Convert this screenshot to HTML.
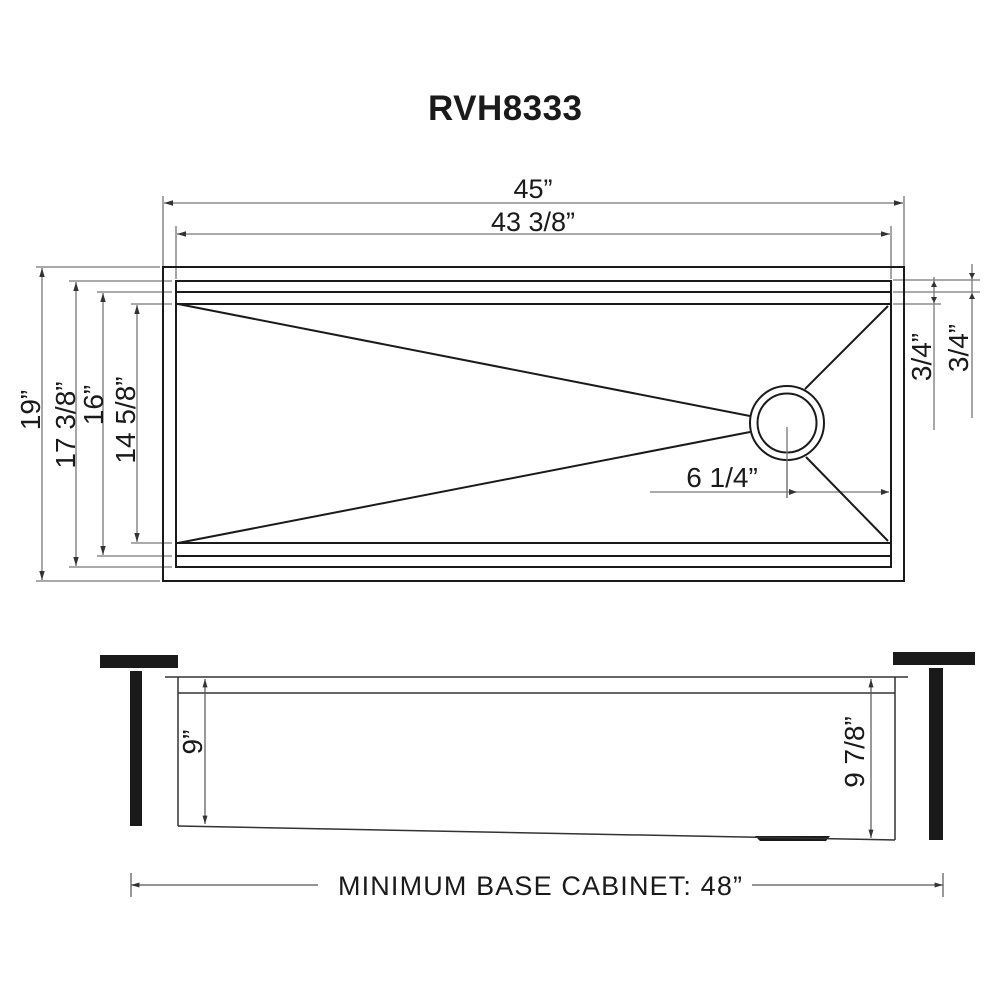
<!DOCTYPE html>
<html><head><meta charset="utf-8"><style>
html,body{margin:0;padding:0;background:#fff;}
svg{display:block;}
text{font-family:"Liberation Sans",Arial,sans-serif;fill:#1a1a1a;}
</style></head><body>
<svg width="1000" height="1000" viewBox="0 0 1000 1000" xmlns="http://www.w3.org/2000/svg">
<defs>
<marker id="a" viewBox="0 0 10 10" refX="10" refY="5" markerWidth="7" markerHeight="7" orient="auto-start-reverse"><path d="M0,2 L10,5 L0,8 z" fill="#333"/></marker>
</defs>
<text x="505" y="120" font-size="35" font-weight="bold" text-anchor="middle" textLength="154">RVH8333</text>

<g stroke="#777" stroke-width="1.3" fill="none">
<line x1="163" y1="196" x2="163" y2="266"/>
<line x1="904" y1="196" x2="904" y2="266"/>
<line x1="176" y1="226" x2="176" y2="279"/>
<line x1="891" y1="226" x2="891" y2="279"/>
<line x1="164" y1="203" x2="903" y2="203" marker-start="url(#a)" marker-end="url(#a)"/>
<line x1="177" y1="234" x2="890" y2="234" marker-start="url(#a)" marker-end="url(#a)"/>
<line x1="36" y1="267" x2="160" y2="267"/>
<line x1="36" y1="581" x2="160" y2="581"/>
<line x1="69" y1="281" x2="172" y2="281"/>
<line x1="69" y1="567" x2="172" y2="567"/>
<line x1="97" y1="292" x2="172" y2="292"/>
<line x1="97" y1="556" x2="172" y2="556"/>
<line x1="131" y1="304" x2="172" y2="304"/>
<line x1="131" y1="543" x2="172" y2="543"/>
<line x1="42" y1="268" x2="42" y2="580" marker-start="url(#a)" marker-end="url(#a)"/>
<line x1="76" y1="282" x2="76" y2="566" marker-start="url(#a)" marker-end="url(#a)"/>
<line x1="103" y1="293" x2="103" y2="555" marker-start="url(#a)" marker-end="url(#a)"/>
<line x1="137" y1="305" x2="137" y2="542" marker-start="url(#a)" marker-end="url(#a)"/>
<line x1="893" y1="280" x2="980" y2="280"/>
<line x1="893" y1="292" x2="980" y2="292"/>
<line x1="893" y1="304" x2="941" y2="304"/>
<line x1="934" y1="277" x2="934" y2="430"/>
<line x1="972" y1="264" x2="972" y2="418"/>
<line x1="650" y1="492" x2="889" y2="492"/>
<line x1="787" y1="427" x2="787" y2="498"/>
</g>
<g fill="#333">
<path d="M931,297 L934,303 L937,297z"/><path d="M931,287 L934,281 L937,287z"/>
<path d="M969,273 L972,279 L975,273z"/><path d="M969,299 L972,293 L975,299z"/>
<path d="M789,489 L797,492 L789,495z"/><path d="M889,492 L881,489 L881,495z"/>
</g>
<text x="533" y="198" font-size="27" text-anchor="middle">45”</text>
<text x="533" y="231" font-size="27" text-anchor="middle">43 3/8”</text>
<text font-size="28" text-anchor="middle" transform="translate(40,410) rotate(-90)">19”</text>
<text font-size="28" text-anchor="middle" transform="translate(75,425) rotate(-90)">17 3/8”</text>
<text font-size="28" text-anchor="middle" transform="translate(103,405) rotate(-90)">16”</text>
<text font-size="28" text-anchor="middle" transform="translate(135,420) rotate(-90)">14 5/8”</text>
<text font-size="28" text-anchor="middle" transform="translate(931,357) rotate(-90)">3/4”</text>
<text font-size="28" text-anchor="middle" transform="translate(968,348) rotate(-90)">3/4”</text>
<text x="722" y="487" font-size="28" text-anchor="middle">6 1/4”</text>

<g stroke="#1a1a1a" stroke-width="2" fill="none">
<rect x="163" y="267" width="741" height="314"/>
<rect x="176" y="281" width="715" height="286"/>
<line x1="176" y1="292" x2="891" y2="292"/>
<line x1="176" y1="304" x2="891" y2="304"/>
<line x1="176" y1="543" x2="891" y2="543"/>
<line x1="176" y1="556" x2="891" y2="556"/>
<line x1="178" y1="304" x2="750" y2="416"/>
<line x1="178" y1="543" x2="750" y2="432"/>
<line x1="888" y1="306" x2="805" y2="389"/>
<line x1="806" y1="457" x2="888" y2="541"/>
<circle cx="787" cy="423" r="37" fill="#fff"/>
<circle cx="787" cy="423" r="29.5"/>
</g>
<line x1="787" y1="427" x2="787" y2="498" stroke="#777" stroke-width="1.3"/>

<g fill="#1a1a1a">
<rect x="100" y="655" width="78" height="13"/>
<rect x="130" y="671" width="12" height="155"/>
<rect x="893" y="652" width="82" height="13"/>
<rect x="929" y="668" width="14" height="172"/>
<path d="M755,836 L830,836 L826,841 L760,841z"/>
</g>
<g stroke="#333" stroke-width="1.5" fill="none">
<line x1="165" y1="677" x2="908" y2="677"/>
<line x1="178" y1="693" x2="895" y2="693"/>
<line x1="178" y1="677" x2="178" y2="826"/>
<line x1="178" y1="826" x2="895" y2="840"/>
<line x1="895" y1="677" x2="895" y2="840"/>
</g>
<g stroke="#555" stroke-width="1.2">
<line x1="205" y1="679" x2="205" y2="824" marker-start="url(#a)" marker-end="url(#a)"/>
<line x1="871" y1="679" x2="871" y2="838" marker-start="url(#a)" marker-end="url(#a)"/>
<line x1="131" y1="885" x2="318" y2="885" marker-start="url(#a)"/>
<line x1="752" y1="885" x2="943" y2="885" marker-end="url(#a)"/>
<line x1="131" y1="873" x2="131" y2="897"/>
<line x1="943" y1="873" x2="943" y2="897"/>
</g>
<text font-size="28" text-anchor="middle" transform="translate(202,742) rotate(-90)">9”</text>
<text font-size="28" text-anchor="middle" transform="translate(864,752) rotate(-90)">9 7/8”</text>
<text x="540" y="895" font-size="27" text-anchor="middle" textLength="404">MINIMUM BASE CABINET: 48”</text>
</svg>
</body></html>
